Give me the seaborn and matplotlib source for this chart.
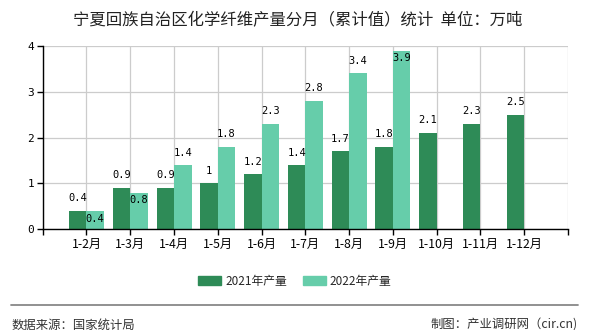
import matplotlib
matplotlib.use("Agg")
import matplotlib.pyplot as plt
import seaborn as sns
import pandas as pd
import numpy as np
from matplotlib.patches import Rectangle
from matplotlib.lines import Line2D

# ---- data ----
categories = ["1-2月", "1-3月", "1-4月", "1-5月", "1-6月", "1-7月", "1-8月",
              "1-9月", "1-10月", "1-11月", "1-12月"]
values_2021 = [0.4, 0.9, 0.9, 1, 1.2, 1.4, 1.7, 1.8, 2.1, 2.3, 2.5]
values_2022 = [0.4, 0.8, 1.4, 1.8, 2.3, 2.8, 3.4, 3.9, None, None, None]
series_names = ["2021年产量", "2022年产量"]
y_ticks = [0, 1, 2, 3, 4]
title = "宁夏回族自治区化学纤维产量分月（累计值）统计  单位：万吨"
source_text = "数据来源：国家统计局"
credit_text = "制图：产业调研网（cir.cn)"

colors = {series_names[0]: "#2e8b57", series_names[1]: "#66cdaa"}

df = pd.DataFrame({
    "month": categories * 2,
    "value": values_2021 + [np.nan if v is None else v for v in values_2022],
    "series": [series_names[0]] * len(categories) + [series_names[1]] * len(categories),
})

sns.set_theme(style="white")
plt.rcParams["font.family"] = ["Noto Sans CJK SC", "DejaVu Sans"]

fig = plt.figure(figsize=(5.9, 3.3), dpi=100)
ax = fig.add_axes([42.7 / 590, 1 - 229.3 / 330, (568 - 42.7) / 590, (229.3 - 46) / 330])

sns.barplot(data=df, x="month", y="value", hue="series", order=categories,
            hue_order=series_names, palette=colors, width=0.8, dodge=True,
            saturation=1, ax=ax, legend=False, edgecolor="none", linewidth=0)

ax.set_xlim(-1, len(categories))
ax.set_ylim(0, 4)
ax.set_xticks(range(-1, len(categories) + 1))
ax.set_xticklabels([""] + categories + [""], fontsize=8.8)
ax.set_yticks(y_ticks)
ax.set_yticklabels([str(t) for t in y_ticks], fontsize=8, family=["DejaVu Sans Mono"])
ax.set_xlabel("")
ax.set_ylabel("")
ax.grid(True, color="#cccccc", linewidth=0.9)
ax.set_axisbelow(True)
for s in ["top", "right"]:
    ax.spines[s].set_visible(False)
for s in ["left", "bottom"]:
    ax.spines[s].set_color("black")
    ax.spines[s].set_linewidth(1)
ax.tick_params(axis="both", which="major", length=4, width=1, color="black",
               direction="out", pad=2, colors="black")
ax.tick_params(axis="x", bottom=True)
ax.tick_params(axis="y", left=True)

# value labels
cont2021, cont2022 = ax.containers[0], ax.containers[1]
for i, bar in enumerate(cont2021):
    h = bar.get_height()
    if np.isnan(h):
        continue
    ax.annotate(f"{h:g}", (bar.get_x() + bar.get_width() / 2, h),
                xytext=(0, 5.5), textcoords="offset points", ha="center", va="bottom",
                fontsize=7.5, family=["DejaVu Sans Mono"], color="black")
for i, bar in enumerate(cont2022):
    h = bar.get_height()
    if np.isnan(h):
        continue
    other = values_2021[i]
    inside = abs(h - other) < 0.25 or h > 3.7
    if inside:
        ax.annotate(f"{h:g}", (bar.get_x() + bar.get_width() / 2, h),
                    xytext=(0, -5.5), textcoords="offset points", ha="center", va="center",
                    fontsize=7.5, family=["DejaVu Sans Mono"], color="black")
    else:
        ax.annotate(f"{h:g}", (bar.get_x() + bar.get_width() / 2, h),
                    xytext=(0, 5.5), textcoords="offset points", ha="center", va="bottom",
                    fontsize=7.5, family=["DejaVu Sans Mono"], color="black")

fig.text(0.505, 1 - 21 / 330, title, ha="center", va="center", fontsize=11.8, color="#222222")

handles = [Rectangle((0, 0), 1, 1, color=colors[n]) for n in series_names]
fig.legend(handles, series_names, loc="center", bbox_to_anchor=(0.5, 1 - 281 / 330),
           ncol=2, frameon=False, fontsize=8.5, handlelength=1.9, handleheight=0.9,
           handletextpad=0.35, columnspacing=1.4)

fig.add_artist(Line2D([10.7 / 590, 578 / 590], [1 - 305 / 330, 1 - 305 / 330],
                      color="#888888", linewidth=1.3, transform=fig.transFigure))
fig.text(12 / 590, 1 - 325 / 330, source_text, ha="left", va="center", fontsize=8.9, color="#333333")
fig.text(578 / 590, 1 - 325 / 330, credit_text, ha="right", va="center", fontsize=8.9, color="#333333")

fig.savefig("out.png", dpi=100)
